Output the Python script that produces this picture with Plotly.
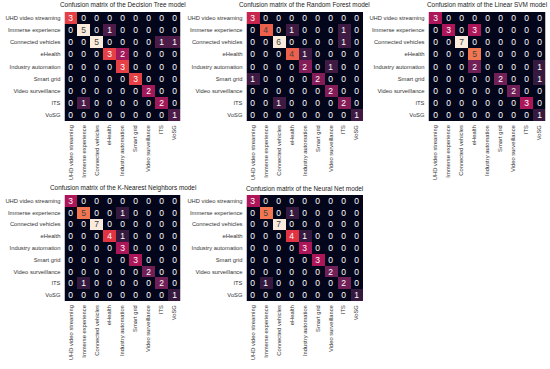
import plotly.graph_objects as go

classes = ["UHD video streaming", "Immerse experience", "Connected vehicles", "eHealth",
           "Industry automation", "Smart grid", "Video surveillance", "ITS", "VoSG"]

model_names = ["Decision Tree", "Random Forest", "Linear SVM", "K-Nearest Neighbors", "Neural Net"]

cm_decision_tree = [
    [3, 0, 0, 0, 0, 0, 0, 0, 0],
    [0, 5, 0, 1, 0, 0, 0, 0, 0],
    [0, 0, 5, 0, 0, 0, 0, 1, 1],
    [0, 0, 0, 3, 2, 0, 0, 0, 0],
    [0, 0, 0, 0, 3, 0, 0, 0, 0],
    [0, 0, 0, 0, 0, 3, 0, 0, 0],
    [0, 0, 0, 0, 0, 0, 2, 0, 0],
    [0, 1, 0, 0, 0, 0, 0, 2, 0],
    [0, 0, 0, 0, 0, 0, 0, 0, 1],
]
cm_random_forest = [
    [3, 0, 0, 0, 0, 0, 0, 0, 0],
    [0, 4, 0, 1, 0, 0, 0, 1, 0],
    [0, 0, 6, 0, 0, 0, 0, 1, 0],
    [0, 0, 0, 4, 1, 0, 0, 0, 0],
    [0, 0, 0, 0, 2, 0, 1, 0, 0],
    [1, 0, 0, 0, 0, 2, 0, 0, 0],
    [0, 0, 0, 0, 0, 0, 2, 0, 0],
    [0, 0, 1, 0, 0, 0, 0, 2, 0],
    [0, 0, 0, 0, 0, 0, 0, 0, 1],
]
cm_linear_svm = [
    [3, 0, 0, 0, 0, 0, 0, 0, 0],
    [0, 3, 0, 3, 0, 0, 0, 0, 0],
    [0, 0, 7, 0, 0, 0, 0, 0, 0],
    [0, 0, 0, 5, 0, 0, 0, 0, 0],
    [0, 0, 0, 2, 0, 0, 0, 0, 1],
    [0, 0, 0, 0, 0, 2, 0, 0, 1],
    [0, 0, 0, 0, 0, 0, 2, 0, 0],
    [0, 0, 0, 0, 0, 0, 0, 3, 0],
    [0, 0, 0, 0, 0, 0, 0, 0, 1],
]
cm_knn = [
    [3, 0, 0, 0, 0, 0, 0, 0, 0],
    [0, 5, 0, 0, 1, 0, 0, 0, 0],
    [0, 0, 7, 0, 0, 0, 0, 0, 0],
    [0, 0, 0, 4, 1, 0, 0, 0, 0],
    [0, 0, 0, 0, 3, 0, 0, 0, 0],
    [0, 0, 0, 0, 0, 3, 0, 0, 0],
    [0, 0, 0, 0, 0, 0, 2, 0, 0],
    [0, 1, 0, 0, 0, 0, 0, 2, 0],
    [0, 0, 0, 0, 0, 0, 0, 0, 1],
]
cm_neural_net = [
    [3, 0, 0, 0, 0, 0, 0, 0, 0],
    [0, 5, 0, 1, 0, 0, 0, 0, 0],
    [0, 0, 7, 0, 0, 0, 0, 0, 0],
    [0, 0, 0, 4, 1, 0, 0, 0, 0],
    [0, 0, 0, 0, 3, 0, 0, 0, 0],
    [0, 0, 0, 0, 0, 3, 0, 0, 0],
    [0, 0, 0, 0, 0, 0, 2, 0, 0],
    [0, 1, 0, 0, 0, 0, 0, 2, 0],
    [0, 0, 0, 0, 0, 0, 0, 0, 1],
]

matrices = [cm_decision_tree, cm_random_forest, cm_linear_svm, cm_knn, cm_neural_net]

rocket = [
    [0.0, "#03051A"], [1/7, "#35193E"], [2/7, "#701F57"], [3/7, "#AD1759"],
    [4/7, "#E13342"], [5/7, "#F37651"], [6/7, "#F6B48F"], [1.0, "#FAEBDD"],
]

W, H = 550, 369
# panel boxes in pixels: (left, right, top, bottom)
boxes = [
    (64.5, 180.5, 12, 121),
    (246.5, 363, 12, 121),
    (428.5, 545.5, 12, 121),
    (64.5, 180.5, 195, 301),
    (246.5, 363, 195, 301),
]

fig = go.Figure()
annotations = []
layout = {}
for i, (cm, name, (l, r, t, b)) in enumerate(zip(matrices, model_names, boxes)):
    k = "" if i == 0 else str(i + 1)
    zmax = max(max(row) for row in cm)
    fig.add_trace(go.Heatmap(
        z=cm, x=classes, y=classes, zmin=0, zmax=zmax,
        colorscale=rocket, showscale=False,
        texttemplate="%{z}", textfont=dict(size=8.5, family="Liberation Sans, Arial"),
        xaxis="x" + k, yaxis="y" + k, hoverinfo="skip",
    ))
    layout["xaxis" + k] = dict(
        domain=[l / W, r / W], anchor="y" + k, tickangle=-90, automargin=False,
        tickfont=dict(size=5.8, color="#333"), showgrid=False, zeroline=False,
        ticks="", ticklen=0, showline=False, ticklabelstandoff=2,
    )
    layout["yaxis" + k] = dict(
        domain=[1 - b / H, 1 - t / H], anchor="x" + k, autorange="reversed", automargin=False,
        tickfont=dict(size=5.8, color="#333"), showgrid=False, zeroline=False,
        ticks="", ticklen=0, showline=False, ticklabelstandoff=3,
    )
    annotations.append(dict(
        text=f"Confusion matrix of the {name} model", xref="paper", yref="paper",
        x=(l + r) / 2 / W, y=1 - (t - 1.5) / H, xanchor="center", yanchor="bottom",
        showarrow=False, font=dict(size=6.4, color="#222"),
    ))

fig.update_layout(
    width=W, height=H, margin=dict(l=0, r=0, t=0, b=0),
    paper_bgcolor="white", plot_bgcolor="white",
    font=dict(family="Liberation Sans, Arial, sans-serif"),
    annotations=annotations, **layout,
)
fig.write_html("out.html", config={"displayModeBar": False},
               post_script="document.body.style.margin='0';document.body.style.padding='0';")
